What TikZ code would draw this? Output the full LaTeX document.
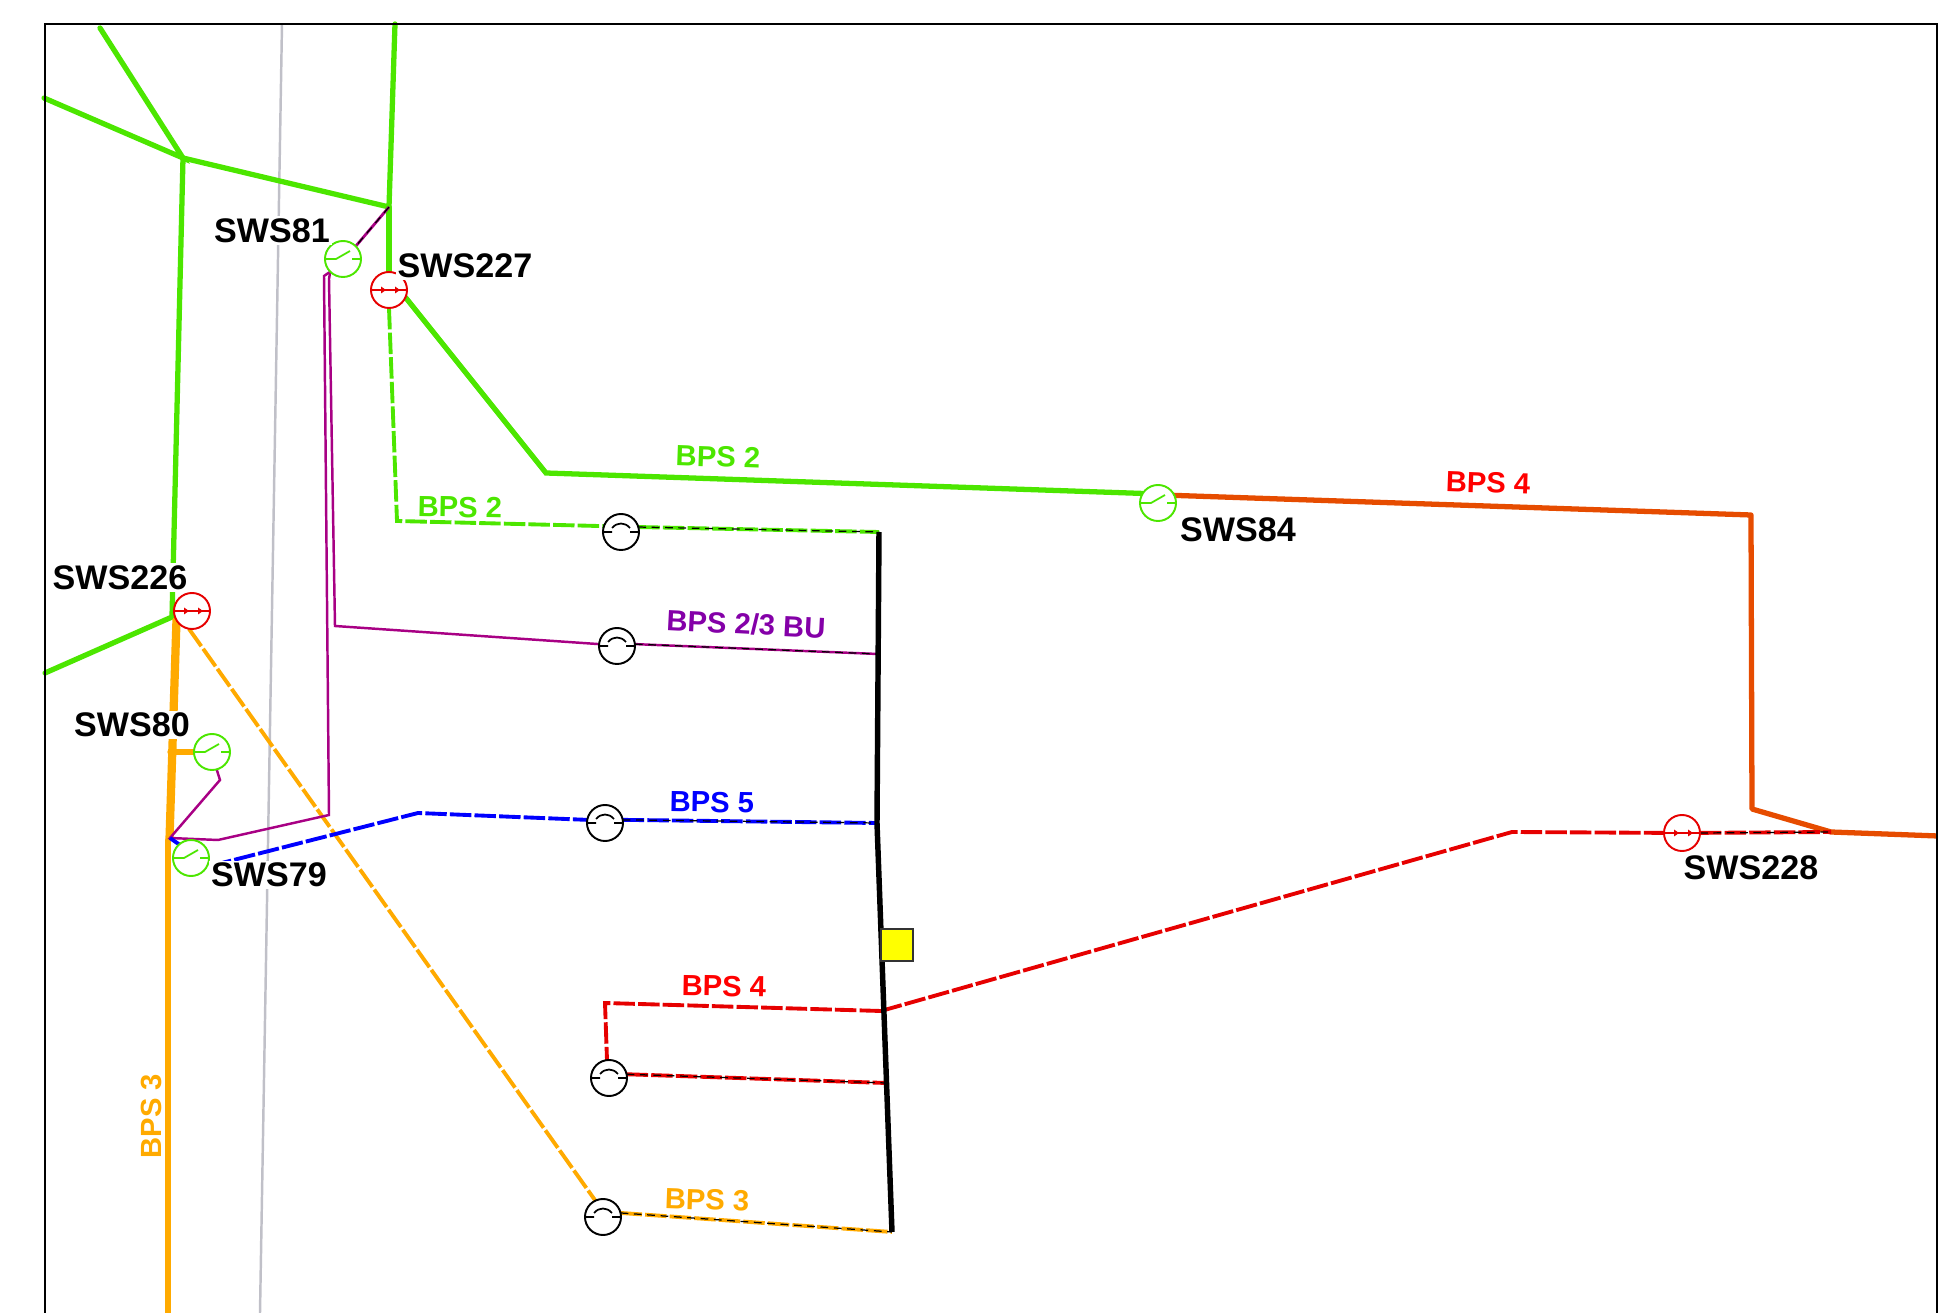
\documentclass[tikz,border=0pt]{standalone}
\usepackage{fontspec}
\setmainfont{Liberation Sans}
\usetikzlibrary{backgrounds}

\definecolor{bpsgreen}{HTML}{4CE600}
\definecolor{bpsorange}{HTML}{FFAA00}
\definecolor{bpsred}{HTML}{E60000}
\definecolor{bpslabelred}{HTML}{FF0000}
\definecolor{bpsrust}{HTML}{E64C00}
\definecolor{bpspurple}{HTML}{A80084}
\definecolor{bpsviolet}{HTML}{8400A8}
\definecolor{bpsblue}{HTML}{0000FF}
\definecolor{markyellow}{HTML}{FFFF00}
\definecolor{railgrey}{HTML}{C0C0C8}

\tikzset{
  swname/.style={font=\fontsize{9.7}{11}\selectfont\bfseries, fill=white, inner sep=0.6pt},
  linename/.style={font=\fontsize{8.3}{10}\selectfont\bfseries, inner sep=0pt},
  roundsym/.style={circle, fill=white, line width=0.55pt, minimum size=0.36cm, inner sep=0pt, outer sep=0pt},
  swopen/.style={roundsym, draw=bpsgreen, path picture={
    \begin{scope}[shift={(path picture bounding box.center)}]
    \draw[bpsgreen, line width=0.5pt] (-18,0) -- (-7,0) -- (7,-8) (9,0) -- (18,0);
    \end{scope}}},
  swclosed/.style={roundsym, draw=bpsred, path picture={
    \begin{scope}[shift={(path picture bounding box.center)}]
    \draw[bpsred, line width=0.5pt] (-18,0) -- (18,0);
    \fill[bpsred] (-8,-3.5) -- (-3,0) -- (-8,3.5) -- cycle (6,-3.5) -- (11,0) -- (6,3.5) -- cycle;
    \end{scope}}},
  breaker/.style={roundsym, draw=black, path picture={
    \begin{scope}[shift={(path picture bounding box.center)}]
    \draw[black, line width=0.5pt] (-18,0) -- (-9,0) (9,0) -- (18,0)
      (-9,-4) .. controls (-4,-10) and (4,-10) .. (9,-4);
    \end{scope}}},
  mainline/.style={line width=1.5pt, line cap=round},
  altline/.style={line width=1.1pt, dash pattern=on 6.1pt off 0.9pt},
  tapline/.style={bpspurple, line width=0.7pt},
  blackdash/.style={black, line width=0.35pt, dash pattern=on 2.2pt off 1.6pt},
  busline/.style={black, line width=1.55pt},
}

\begin{document}
\begin{tikzpicture}[x=0.01cm, y=-0.01cm]
\useasboundingbox (0,0) rectangle (1938,1313);

\node at (343,259) (sws81) [swopen] {};
\node at (389,290) (sws227) [swclosed] {};
\node at (192,611) (sws226) [swclosed] {};
\node at (212,752) (sws80) [swopen] {};
\node at (191,858) (sws79) [swopen] {};
\node at (1158,503) (sws84) [swopen] {};
\node at (1682,833) (sws228) [swclosed] {};
\node at (621,532) (brk2) [breaker] {};
\node at (617,646) (brkbu) [breaker] {};
\node at (605,823) (brk5) [breaker] {};
\node at (609,1078) (brk4) [breaker] {};
\node at (603,1217) (brk3) [breaker] {};
\node at (897,945) (marker) [draw=black!80, fill=markyellow, line width=0.3pt, minimum size=0.32cm, inner sep=0pt] {};

\coordinate (frameBL) at (45,1313);
\coordinate (frameTL) at (45,24);
\coordinate (frameTR) at (1937,24);
\coordinate (frameBR) at (1937,1313);
\coordinate (greyTop) at (282,24);
\coordinate (greyEnd) at (260,1313);
\coordinate (gTop1) at (100,28);
\coordinate (gLeft1) at (44,98);
\coordinate (gLeft2) at (45,673);
\coordinate (gKnee) at (183,158);
\coordinate (gTop2) at (395,24);
\coordinate (gJoin) at (389,207);
\coordinate (gFoot) at (172,617);
\coordinate (gBend) at (546,473);
\coordinate (gDash) at (397,521);
\coordinate (rustA) at (1751,515);
\coordinate (rustB) at (1752,809);
\coordinate (rustC) at (1831,832);
\coordinate (rustD) at (1938,836);
\coordinate (busTop) at (879,532);
\coordinate (busBu) at (878,654);
\coordinate (bus5) at (877,823);
\coordinate (bus4) at (881,1011);
\coordinate (bus4b) at (886,1083);
\coordinate (busEnd) at (892,1232);
\coordinate (orA) at (175,620);
\coordinate (orB) at (178,620);
\coordinate (orC) at (168,840);
\coordinate (orD) at (171,838);
\coordinate (orEnd) at (168,1313);
\coordinate (orStub) at (170,752);
\coordinate (puB) at (220,780);
\coordinate (puC) at (170,838);
\coordinate (puD) at (218,840);
\coordinate (puE) at (329,815);
\coordinate (puF) at (324,276);
\coordinate (puG) at (329,279);
\coordinate (puH) at (335,626);
\coordinate (blB) at (210,866);
\coordinate (blC) at (418,813);
\coordinate (rdA) at (605,1003);
\coordinate (rdB) at (607,1060);
\coordinate (rdC) at (1512,832);

\begin{scope}[on background layer]
\draw[railgrey, line width=0.7pt] (greyTop) -- (greyEnd);

\draw[bpsgreen, mainline] (gTop1) -- (gKnee) -- (gLeft1);
\draw[bpsgreen, mainline] (gKnee) -- (gFoot) -- (gLeft2);
\draw[bpsgreen, mainline, line join=round] (gKnee) -- (gJoin) -- (gTop2);
\draw[bpsgreen, mainline] (gJoin) -- (sws227);
\draw[bpsgreen, mainline] (sws227.-24) -- (gBend) -- (sws84.148);
\draw[bpsgreen, altline] (sws227.south) -- (gDash) -- (brk2.161);
\draw[bpsgreen, altline] (brk2.16) -- (busTop);
\draw[blackdash] (brk2.16) -- (busTop);

\draw[bpsrust, mainline, line join=round] (sws84.25) -- (rustA) -- (rustB) -- (rustC) -- (rustD);

\draw[bpsorange, mainline] (orA) -- (orC);
\draw[bpsorange, mainline] (orB) -- (orD);
\draw[bpsorange, mainline] (orC) -- (orEnd);
\draw[bpsorange, mainline] (orStub) -- (sws80);
\draw[bpsorange, altline] (sws226.-100) -- (brk3.115);
\draw[bpsorange, altline] (brk3.13) -- (busEnd);
\draw[blackdash] (brk3.13) -- (busEnd);

\draw[tapline] (sws80.-75) -- (puB) -- (puC) -- (puD) -- (puE) -- (puF) -- (sws81.225);
\draw[tapline] (sws81.225) -- (puG) -- (puH) -- (brkbu.174);
\draw[tapline] (brkbu.6) -- (busBu);
\draw[blackdash] (brkbu.6) -- (busBu);
\draw[tapline, line width=0.8pt] (gJoin) -- (sws81.45);
\draw[blackdash] (gJoin) -- (sws81.45);

\draw[bpsblue, altline] (puC) -- (blB) -- (blC) -- (brk5.170);
\draw[bpsblue, altline] (brk5.10) -- (bus5);
\draw[blackdash] (brk5.10) -- (bus5);

\draw[bpsred, altline] (bus4) -- (rdA) -- (rdB) -- (brk4.100);
\draw[bpsred, altline] (brk4.12) -- (bus4b);
\draw[blackdash] (brk4.12) -- (bus4b);
\draw[bpsred, altline] (bus4) -- (rdC) -- (sws228);
\draw[bpsred, altline] (sws228) -- (rustC);
\draw[blackdash] (sws228.east) -- (rustC);

\draw[busline] (busTop) -- (bus5) -- (busEnd);
\end{scope}

\draw[black, line width=0.65pt] (frameBL) -- (frameTL) -- (frameTR) -- (frameBR);

\node at (272,230.5) (lab81) [swname] {SWS81};
\node at (465,266) (lab227) [swname] {SWS227};
\node at (120,577.5) (lab226) [swname] {SWS226};
\node at (132,725) (lab80) [swname] {SWS80};
\node at (269,875) (lab79) [swname] {SWS79};
\node at (1238,529.5) (lab84) [swname] {SWS84};
\node at (1751,868) (lab228) [swname] {SWS228};

\node at (718,457) (bps2up) [linename, bpsgreen, rotate=-2] {BPS 2};
\node at (460,507) (bps2low) [linename, bpsgreen, rotate=-1] {BPS 2};
\node at (1488,483) (bps4up) [linename, bpslabelred, rotate=-2] {BPS 4};
\node at (746,624) (bpsbu) [linename, bpsviolet, rotate=-3] {BPS 2/3 BU};
\node at (712,802) (bps5) [linename, bpsblue, rotate=-1] {BPS 5};
\node at (724,986) (bps4low) [linename, bpslabelred, rotate=-1] {BPS 4};
\node at (707,1200) (bps3low) [linename, bpsorange, rotate=-2] {BPS 3};
\node at (151,1116) (bps3side) [linename, bpsorange, rotate=90] {BPS 3};
\end{tikzpicture}
\end{document}
